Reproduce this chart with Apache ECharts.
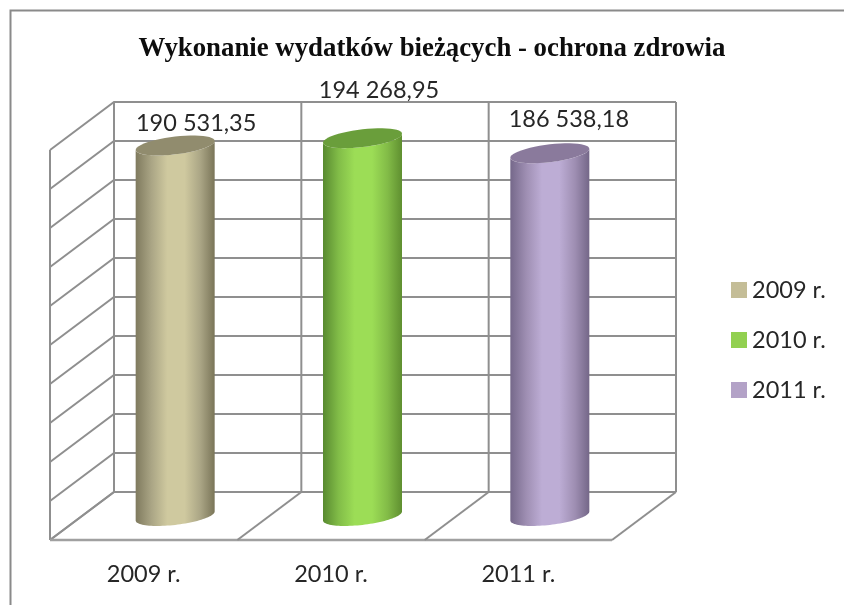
<!DOCTYPE html>
<html><head><meta charset="utf-8">
<style>html,body{margin:0;padding:0;background:#fff}#c{width:844px;height:605px;filter:blur(0.5px)}</style>
<script src="https://cdn.jsdelivr.net/npm/echarts@6/dist/echarts.min.js"></script>
</head><body><div id="c"></div>
<script>
const titleText = 'Wykonanie wydatków bieżących - ochrona zdrowia';
const categories = ['2009 r.', '2010 r.', '2011 r.'];
const values = [190531.35, 194268.95, 186538.18];
const valueLabels = ['190 531,35', '194 268,95', '186 538,18'];
const yTicks = [0, 20000, 40000, 60000, 80000, 100000, 120000, 140000, 160000, 180000, 200000];

// layout & style, separate from the data
const DEPTH = [64, 48];
const CENTER_SHIFT = [31.5, 24];
const RX = 39.5, RY = 8.9, TILT = 4.5;
const LABEL_OFFSETS = [[21, -22], [16.5, -48], [19, -34]];
const GRID_COLOR = '#8f8f8f';
const GRID_W = 2;
const TEXT = '"Lato","Open Sans",sans-serif';
const PALETTE = [
  {legend:'#c4bd97', top:'#918c6e', stops:['#7f7a5e','#aaa585','#cfc99f','#cfc99f','#aaa585','#7a7558']},
  {legend:'#92d050', top:'#6a9e3b', stops:['#588a30','#82bd48','#9cdd56','#9cdd56','#82bb47','#5f8f30']},
  {legend:'#b3a2c7', top:'#8a7a9c', stops:['#75688a','#9e8eb2','#bdadd5','#bdadd5','#9e8eb2','#746788']}
];

function wallRender(params, api) {
  const v = api.value(1);
  const band = api.size([1, 0])[0];
  const y = api.coord([0, v])[1];
  const x0 = api.coord([0, v])[0] - band / 2;
  const x1 = x0 + band * categories.length;
  return {type:'polyline', silent:true,
    shape:{points:[[x0, y], [x0 + DEPTH[0], y - DEPTH[1]], [x1 + DEPTH[0], y - DEPTH[1]]]},
    style:{stroke:GRID_COLOR, lineWidth:GRID_W, fill:null}};
}
function frameRender(params, api) {
  const i = api.value(0);
  const band = api.size([1, 0])[0];
  const p0 = api.coord([0, yTicks[0]]);
  const pT = api.coord([0, yTicks[yTicks.length - 1]]);
  const x = p0[0] - band / 2 + band * i;
  const children = [
    {type:'line', shape:{x1:x + DEPTH[0], y1:p0[1] - DEPTH[1], x2:x + DEPTH[0], y2:pT[1] - DEPTH[1]}, style:{stroke:GRID_COLOR, lineWidth:GRID_W}},
    {type:'line', shape:{x1:x, y1:p0[1], x2:x + DEPTH[0], y2:p0[1] - DEPTH[1]}, style:{stroke:GRID_COLOR, lineWidth:GRID_W}}
  ];
  if (i === 0) {
    children.push({type:'line', shape:{x1:x, y1:p0[1], x2:x, y2:pT[1]}, style:{stroke:GRID_COLOR, lineWidth:GRID_W}});
    children.push({type:'line', shape:{x1:x, y1:p0[1], x2:x + band * categories.length, y2:p0[1]}, style:{stroke:'#a0a0a0', lineWidth:2.6}});
  }
  return {type:'group', silent:true, children};
}
function ellipsePoints(cx, cy, from, to) {
  const pts = [];
  const n = 48;
  for (let k = 0; k <= n; k++) {
    const t = from + (to - from) * k / n;
    pts.push([cx + RX * Math.cos(t), cy + RY * Math.sin(t) - TILT * Math.cos(t)]);
  }
  return pts;
}
function cylinderRender(idx) {
  return function (params, api) {
    const top = api.coord([api.value(0), api.value(1)]);
    const base = api.coord([api.value(0), 0]);
    const cx = top[0] + CENTER_SHIFT[0];
    const ty = top[1] - CENTER_SHIFT[1] + 1;
    const by = base[1] - CENTER_SHIFT[1];
    const c = PALETTE[idx];
    const body = ellipsePoints(cx, by, 0, Math.PI);
    body.push(...ellipsePoints(cx, ty, Math.PI, 0));
    const pos = [0, 0.2, 0.4, 0.62, 0.82, 1];
    const off = LABEL_OFFSETS[idx];
    return {type:'group', children:[
      {type:'polygon', shape:{points:body}, style:{fill:{type:'linear', x:0, y:0, x2:1, y2:0,
        colorStops:c.stops.map((s, i) => ({offset:pos[i], color:s}))}}},
      {type:'polygon', shape:{points:ellipsePoints(cx, ty, 0, Math.PI * 2)}, style:{fill:c.top}},
      {type:'text', z2:20, style:{x:cx + off[0], y:ty + off[1], text:valueLabels[idx], fill:'#262626',
        font:'23.5px ' + TEXT, align:'center', verticalAlign:'middle'}}
    ]};
  };
}

const series = [
  {type:'custom', name:'walls', silent:true, z:1, clip:false, renderItem:wallRender,
   encode:{x:0, y:1}, data:yTicks.map(v => [0, v])},
  {type:'custom', name:'frame', silent:true, z:1, clip:false, renderItem:frameRender,
   encode:{x:0}, data:[0, 1, 2, 3].map(i => [i, 0])}
];
categories.forEach((name, i) => series.push({
  type:'custom', name, z:5, clip:false, renderItem:cylinderRender(i),
  itemStyle:{color:PALETTE[i].legend}, encode:{x:0, y:1}, data:[[i, values[i]]]
}));

const chart = echarts.init(document.getElementById('c'), null, {renderer:'canvas'});
chart.setOption({
  animation:false,
  backgroundColor:'#fff',
  title:{text:titleText, left:427, top:31, textAlign:'center',
    textStyle:{fontFamily:'"Liberation Serif",serif', fontWeight:'bold', fontSize:26.8, color:'#0d0d0d'}},
  legend:{data:categories, orient:'vertical', left:726, top:273, icon:'rect', itemWidth:16, itemHeight:16,
    itemGap:26, selectedMode:false,
    textStyle:{fontFamily:TEXT, fontSize:23.5, color:'#262626', lineHeight:23}},
  grid:{left:50, right:232, top:150, height:390, containLabel:false},
  xAxis:{type:'category', data:categories, axisLine:{show:false}, axisTick:{show:false}, splitLine:{show:false},
    axisLabel:{margin:22, fontFamily:TEXT, fontSize:23.5, color:'#262626'}},
  yAxis:{type:'value', min:0, max:200000, interval:20000, axisLine:{show:false}, axisTick:{show:false},
    splitLine:{show:false}, axisLabel:{show:false}},
  graphic:[{type:'polyline', silent:true, shape:{points:[[10.5,606],[10.5,10.5],[845,10.5]]},
    style:{stroke:'#8a8a8a', lineWidth:2, fill:null}}],
  series
});
</script></body></html>
